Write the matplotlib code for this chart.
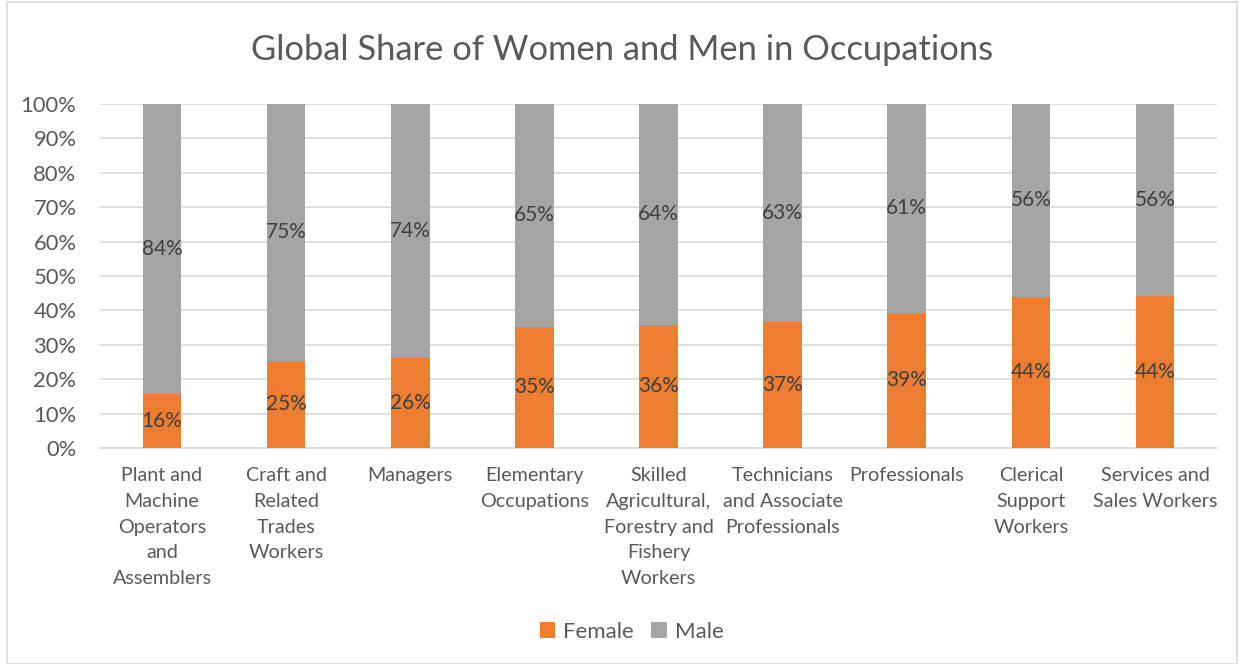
import matplotlib
matplotlib.use("Agg")
import matplotlib.pyplot as plt
from matplotlib.patches import Rectangle
from matplotlib.ticker import FuncFormatter, MultipleLocator

categories = [
    "Plant and\nMachine\nOperators\nand\nAssemblers",
    "Craft and\nRelated\nTrades\nWorkers",
    "Managers",
    "Elementary\nOccupations",
    "Skilled\nAgricultural,\nForestry and\nFishery\nWorkers",
    "Technicians\nand Associate\nProfessionals",
    "Professionals",
    "Clerical\nSupport\nWorkers",
    "Services and\nSales Workers",
]
female = [15.7, 25.3, 26.1, 35.2, 35.9, 36.7, 39.3, 43.9, 44.2]
male = [100 - f for f in female]

plt.rcParams['font.family'] = ['Lato', 'DejaVu Sans']
TXT = '#595959'
ORANGE = '#ED7D31'
GRAY = '#A5A5A5'

fig = plt.figure(figsize=(12.44, 6.64), dpi=100)
ax = fig.add_axes([100/1244, 1-448/664, 1117/1244, 344/664])

x = list(range(len(categories)))
w = 0.31
b1 = ax.bar(x, female, width=w, color=ORANGE, label='Female', zorder=3)
b2 = ax.bar(x, male, width=w, bottom=female, color=GRAY, label='Male', zorder=3)

for i in x:
    ax.text(i, female[i]/2, f"{round(female[i])}%", ha='center', va='center',
            fontsize=15, color='#404040', zorder=4)
    ax.text(i, female[i] + male[i]/2, f"{round(male[i])}%", ha='center', va='center',
            fontsize=15, color='#404040', zorder=4)

ax.set_xlim(-0.5, len(categories) - 0.5)
ax.set_ylim(0, 100)
ax.yaxis.set_major_locator(MultipleLocator(10))
ax.yaxis.set_major_formatter(FuncFormatter(lambda v, p: f"{int(v)}%"))
ax.grid(axis='y', color='#D9D9D9', linewidth=1.2, zorder=0)
ax.set_axisbelow(True)
for s in ['top', 'right', 'left']:
    ax.spines[s].set_visible(False)
ax.spines['bottom'].set_color('#D9D9D9')
ax.spines['bottom'].set_linewidth(1.2)
ax.tick_params(axis='both', length=0, colors=TXT)
ax.tick_params(axis='y', pad=17, labelsize=15.8)
ax.tick_params(axis='x', pad=14, labelsize=14.2)
ax.set_xticks(x)
ax.set_xticklabels(categories, linespacing=1.62)

fig.text(0.5, 1-50/664, "Global Share of Women and Men in Occupations", ha='center', va='center',
         fontsize=24.8, color=TXT)

leg = fig.legend(handles=[b1, b2], labels=['Female', 'Male'], loc='center',
                 bbox_to_anchor=(631.5/1244, 1-632/664), ncol=2, frameon=False,
                 fontsize=16, handlelength=0.7, handleheight=0.7, handletextpad=0.35,
                 columnspacing=0.8)
for t in leg.get_texts():
    t.set_color(TXT)

fig.patches.append(Rectangle((7/1244, 0), 1-14/1244, 1-2/664, transform=fig.transFigure,
                             fill=False, edgecolor='#D9D9D9', linewidth=1.2))

fig.savefig("out.png", dpi=100)
